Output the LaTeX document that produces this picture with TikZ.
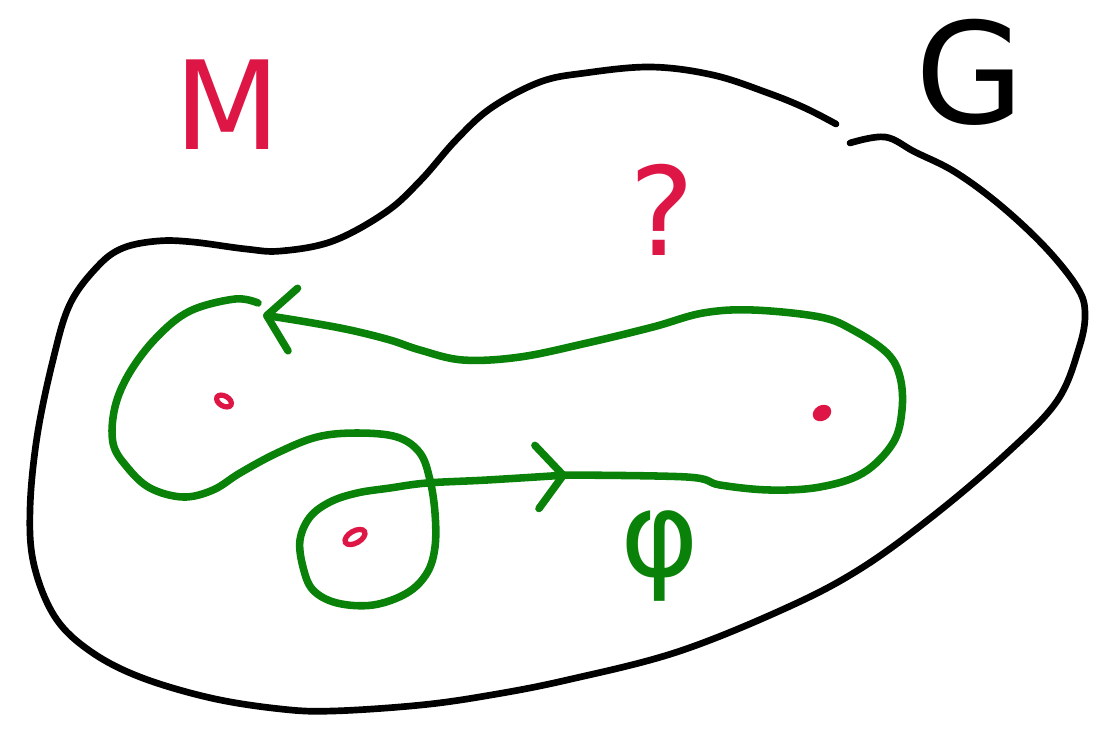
\documentclass[tikz,border=0pt]{standalone}
\usepackage{fontspec}
\setmainfont{DejaVu Sans}
\usepackage{tikz}
\usetikzlibrary{arrows.meta}
\definecolor{crimson}{HTML}{DE1646}
\definecolor{leaf}{HTML}{0A820A}
\tikzset{
  border/.style={draw=black,line width=3.8pt,line cap=round,line join=round},
  loopgreen/.style={draw=leaf,line width=4.3pt,line cap=round,line join=round},
  barb/.style={-{Straight Barb[length=15pt,width=36pt,round]}},
  pointred/.style={draw=crimson,line width=3pt},
  labelred/.style={text=crimson,font=\fontsize{70}{70}\selectfont},
  labelblack/.style={text=black,font=\fontsize{80}{80}\selectfont},
  labelgreen/.style={text=leaf,font=\fontsize{68}{68}\selectfont}
}

\begin{document}
\begin{tikzpicture}[x=0.02cm,y=-0.02cm]
  \useasboundingbox (0,0) rectangle (1105,731);
  % outer region, open near the label
  \draw[border] plot[smooth,tension=.6] coordinates {(836,124) (805,108) (768,93) (713,75) (651,67) (585,73) (540,82) (491,108) (456,140) (421,180) (386,212) (333,241) (281,251) (246,249) (193,242) (158,241) (123,248) (98,266) (70,304) (53,360) (37,437) (30,510) (34,565) (55,617) (90,651) (140,677) (211,698) (281,709) (333,711) (421,705) (491,695) (567,680) (677,652) (786,608) (860,569) (933,516) (1006,454) (1057,401) (1079,348) (1085,313) (1077,287) (1045,247) (1000,205) (955,172) (915,152) (885,137) (850,143)};
  % the loop
  \draw[loopgreen,barb] plot[smooth,tension=.6] coordinates {(258,303) (235,299) (190,311) (157,337) (130,372) (115,407) (113,443) (127,467) (150,488) (183,497) (213,490) (240,473) (277,453) (317,437) (357,433) (397,437) (420,453) (430,480) (435,513) (435,547) (427,573) (407,593) (373,605) (337,603) (313,590) (303,567) (300,540) (310,517) (330,502) (357,493) (390,488) (427,483) (487,480) (567,475)};
  \draw[loopgreen,barb] plot[smooth,tension=.6] coordinates {(560,475) (687,477) (720,485) (770,490) (820,487) (863,473) (893,443) (902,410) (900,377) (887,353) (853,330) (820,317) (753,310) (703,313) (653,327) (587,343) (520,357) (463,360) (420,350) (390,340) (350,330) (307,322) (263,315)};
  % points
  \draw[pointred,rotate around={60:(224,401)}] (224,401) ellipse [x radius=5, y radius=8];
  \draw[pointred,rotate around={30:(355,537)}] (355,537) ellipse [x radius=11, y radius=6];
  \draw[pointred,fill=crimson,rotate around={30:(822,413)}] (822,413) ellipse [x radius=7, y radius=5];
  % labels
  \node[labelred] (m) at (228,105) {M};
  \node[labelblack] (g) at (970,72) {G};
  \node[labelred] (q) at (662,210) {?};
  \node[labelgreen] (phi) at (660,556) {φ};
\end{tikzpicture}
\end{document}
